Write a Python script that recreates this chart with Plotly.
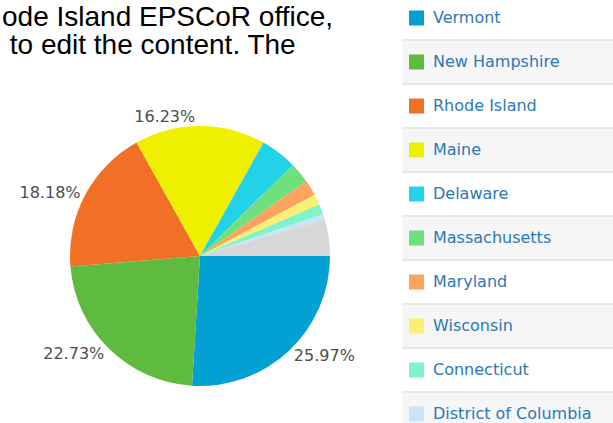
import plotly.graph_objects as go

W, H = 613, 423

states = ["Vermont", "New Hampshire", "Rhode Island", "Maine", "Delaware",
          "Massachusetts", "Maryland", "Wisconsin", "Connecticut",
          "District of Columbia", "Other"]
counts = [40, 35, 28, 25, 7, 4, 3, 2, 2, 1, 7]
colors = ["#03a0d3", "#5fbb3f", "#f27025", "#efef00", "#22d2e8",
          "#6fe07d", "#fca45f", "#fdee74", "#7ef4c8", "#c8e3fb", "#d7d7d7"]
labelled = ["Vermont", "New Hampshire", "Rhode Island", "Maine"]
legend_items = states[:10]

body_lines = ["ode Island EPSCoR office,", " to edit the content. The"]

total = sum(counts)
texts = [f"{c / total * 100:.2f}%" if s in labelled else "" for s, c in zip(states, counts)]

fig = go.Figure()
fig.add_trace(go.Pie(
    labels=states,
    values=counts,
    text=texts,
    textinfo="text",
    textposition="outside",
    sort=False,
    direction="clockwise",
    rotation=90,
    marker=dict(colors=colors, line=dict(width=0)),
    textfont=dict(family="DejaVu Sans", size=16, color="#4d4d4d"),
    showlegend=False,
    hoverinfo="label+percent",
    domain=dict(x=[70 / W, 330 / W], y=[1 - 386 / H, 1 - 126 / H]),
))

shapes = []
annotations = []

# body text lines above the chart
for i, line in enumerate(body_lines):
    annotations.append(dict(
        x=0 / W, y=1 - (17 + 27 * i) / H, xref="paper", yref="paper",
        xanchor="left", yanchor="middle", text=line, showarrow=False,
        font=dict(family="Liberation Sans, Arial", size=28, color="#000000"),
    ))

# legend table
row_h = 44
row_top0 = -4
lx0 = 402
for i, (name, col) in enumerate(zip(legend_items, colors)):
    top = row_top0 + row_h * i
    bot = top + row_h
    if i % 2 == 1:
        shapes.append(dict(type="rect", xref="paper", yref="paper",
                           x0=lx0 / W, x1=1, y0=1 - bot / H, y1=1 - top / H,
                           fillcolor="#f6f6f6", line=dict(width=0), layer="below"))
    shapes.append(dict(type="line", xref="paper", yref="paper",
                       x0=lx0 / W, x1=1, y0=1 - bot / H, y1=1 - bot / H,
                       line=dict(color="#e2e2e2", width=1.5)))
    cy = top + row_h / 2
    shapes.append(dict(type="rect", xref="paper", yref="paper",
                       x0=409 / W, x1=424 / W, y0=1 - (cy + 7.5) / H, y1=1 - (cy - 7.5) / H,
                       fillcolor=col, line=dict(width=0)))
    annotations.append(dict(
        x=431 / W, y=1 - (cy - 0.5) / H, xref="paper", yref="paper",
        xanchor="left", yanchor="middle", text=name, showarrow=False,
        font=dict(family="DejaVu Sans", size=16, color="#2c78b7"),
    ))

fig.update_layout(
    width=W, height=H,
    margin=dict(l=0, r=0, t=0, b=0),
    paper_bgcolor="#ffffff",
    plot_bgcolor="#ffffff",
    shapes=shapes,
    annotations=annotations,
)

fig.write_html("out.html")
